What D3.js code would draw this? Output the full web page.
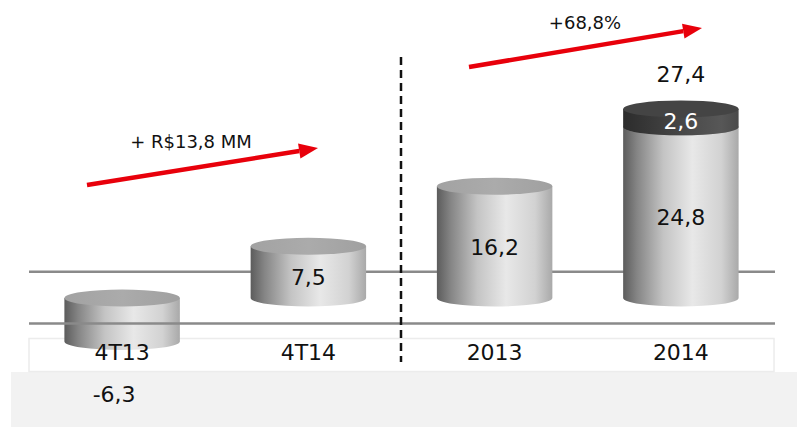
<!DOCTYPE html>
<head>
    <meta charset="utf-8">
    <style type="text/css">
    body { margin: 0; background: #ffffff; }
    text { font-family: "DejaVu Sans", Verdana, sans-serif; }
    </style>
</head>
<body>
    <div id="my_dataviz"></div>

    <script src="https://d3js.org/d3.v7.min.js"></script>
    <script type="text/javascript">

    // data
    var categories = ["4T13", "4T14", "2013", "2014"];
    var baseValues = [-6.3, 7.5, 16.2, 24.8];
    var extraValues = [0, 0, 0, 2.6];
    var baseLabels = ["-6,3", "7,5", "16,2", "24,8"];
    var extraLabels = ["", "", "", "2,6"];
    var totalLabels = ["", "", "", "27,4"];
    var gridValues = [3.8, -3.7];
    var annotations = ["+ R$13,8 MM", "+68,8%"];

    var width = 797, height = 428;

    var svg = d3.select("#my_dataviz")
      .append("svg")
        .attr("width", width)
        .attr("height", height);

    var defs = svg.append("defs");

    // cylinder body shading, light gray
    var g1 = defs.append("linearGradient").attr("id", "bodyLight")
      .attr("x1", "0%").attr("x2", "100%").attr("y1", "0%").attr("y2", "0%");
    [[0, "#5c5c5c"], [0.12, "#858585"], [0.35, "#c4c4c4"], [0.6, "#e8e8e8"], [0.85, "#d2d2d2"], [1, "#a9a9a9"]]
      .forEach(function(s) { g1.append("stop").attr("offset", s[0]).attr("stop-color", s[1]); });

    // dark cap shading
    var g2 = defs.append("linearGradient").attr("id", "bodyDark")
      .attr("x1", "0%").attr("x2", "100%").attr("y1", "0%").attr("y2", "0%");
    [[0, "#2c2c2c"], [0.3, "#3c3c3c"], [0.6, "#4c4c4c"], [0.85, "#575757"], [1, "#4a4a4a"]]
      .forEach(function(s) { g2.append("stop").attr("offset", s[0]).attr("stop-color", s[1]); });

    var g3 = defs.append("linearGradient").attr("id", "topLight")
      .attr("x1", "0%").attr("x2", "100%").attr("y1", "0%").attr("y2", "0%");
    [[0, "#a2a2a2"], [0.5, "#ababab"], [1, "#a0a0a0"]]
      .forEach(function(s) { g3.append("stop").attr("offset", s[0]).attr("stop-color", s[1]); });

    // scales
    var x = d3.scaleBand()
      .domain(categories)
      .range([29, 774])
      .paddingInner(0.38)
      .paddingOuter(0.19);

    var y = d3.scaleLinear()
      .domain([-10, 30])
      .range([367, 91]);

    var ry = 8.5;

    // bottom gray band and the white category box
    svg.append("rect")
      .attr("x", 11).attr("y", 372)
      .attr("width", width - 11).attr("height", 55)
      .style("fill", "#f2f2f2");

    svg.append("rect")
      .attr("x", 29).attr("y", 338.5)
      .attr("width", 745).attr("height", 33)
      .style("fill", "#ffffff")
      .style("stroke", "#ececec")
      .style("stroke-width", 1.5);

    // upper gridline goes behind the bars
    svg.append("line")
      .attr("x1", 29).attr("x2", 775)
      .attr("y1", y(gridValues[0])).attr("y2", y(gridValues[0]))
      .style("stroke", "#8a8a8a")
      .style("stroke-width", 2.5);

    // draw one cylinder from value a to value b
    function cylinder(g, cx, a, b, body, top) {
      var yTop = y(Math.max(a, b)), yBot = y(Math.min(a, b));
      var rx = x.bandwidth() / 2;
      g.append("path")
        .attr("d", "M" + (cx - rx) + "," + yTop +
                   " L" + (cx - rx) + "," + yBot +
                   " A" + rx + "," + ry + " 0 0 0 " + (cx + rx) + "," + yBot +
                   " L" + (cx + rx) + "," + yTop + " Z")
        .style("fill", "url(#" + body + ")");
      g.append("ellipse")
        .attr("cx", cx).attr("cy", yTop)
        .attr("rx", rx).attr("ry", ry)
        .style("fill", top);
    }

    var bars = svg.append("g");
    categories.forEach(function(c, i) {
      var cx = x(c) + x.bandwidth() / 2;
      var g = bars.append("g");
      cylinder(g, cx, 0, baseValues[i], "bodyLight", "url(#topLight)");
      if (extraValues[i] > 0) {
        cylinder(g, cx, baseValues[i], baseValues[i] + extraValues[i], "bodyDark", "#444444");
      }
    });

    // lower gridline sits over the negative bar
    svg.append("line")
      .attr("x1", 29).attr("x2", 775)
      .attr("y1", y(gridValues[1])).attr("y2", y(gridValues[1]))
      .style("stroke", "#8a8a8a")
      .style("stroke-width", 2.5);

    // dashed separator
    svg.append("line")
      .attr("x1", 401).attr("x2", 401)
      .attr("y1", 57).attr("y2", 362)
      .style("stroke", "#111")
      .style("stroke-width", 2.5)
      .style("stroke-dasharray", "8,5");

    // category labels
    svg.selectAll(".cat")
      .data(categories)
      .enter()
      .append("text")
        .attr("x", function(d) { return x(d) + x.bandwidth() / 2; })
        .attr("y", 360)
        .attr("text-anchor", "middle")
        .style("font-size", "22px")
        .style("fill", "#111")
        .text(function(d) { return d; });

    // value labels
    categories.forEach(function(c, i) {
      var cx = x(c) + x.bandwidth() / 2;
      var v = baseValues[i];
      var ly = v >= 0 ? (y(0) + y(v)) / 2 + 13 : 402;
      var lx = v >= 0 ? cx : cx - 8;
      svg.append("text")
        .attr("x", lx).attr("y", ly)
        .attr("text-anchor", "middle")
        .style("font-size", "22px")
        .style("fill", "#111")
        .text(baseLabels[i]);
      if (extraLabels[i]) {
        svg.append("text")
          .attr("x", cx)
          .attr("y", (y(v) + y(v + extraValues[i])) / 2 + 11)
          .attr("text-anchor", "middle")
          .style("font-size", "22px")
          .style("fill", "#ffffff")
          .text(extraLabels[i]);
      }
      if (totalLabels[i]) {
        svg.append("text")
          .attr("x", cx)
          .attr("y", y(v + extraValues[i]) - 27)
          .attr("text-anchor", "middle")
          .style("font-size", "22px")
          .style("fill", "#111")
          .text(totalLabels[i]);
      }
    });

    // red growth arrows
    var arrows = [
      {x1: 87, y1: 185, x2: 318, y2: 148, tx: 191, ty: 148, label: annotations[0]},
      {x1: 469, y1: 67, x2: 702, y2: 28, tx: 585, ty: 29, label: annotations[1]}
    ];

    arrows.forEach(function(a) {
      var ang = Math.atan2(a.y2 - a.y1, a.x2 - a.x1);
      var len = 19, half = 7.5;
      var bx = a.x2 - len * Math.cos(ang), by = a.y2 - len * Math.sin(ang);
      svg.append("line")
        .attr("x1", a.x1).attr("y1", a.y1)
        .attr("x2", bx).attr("y2", by)
        .style("stroke", "#e8000b")
        .style("stroke-width", 4.5);
      svg.append("path")
        .attr("d", "M" + a.x2 + "," + a.y2 +
                   " L" + (bx - half * Math.sin(ang)) + "," + (by + half * Math.cos(ang)) +
                   " L" + (bx + half * Math.sin(ang)) + "," + (by - half * Math.cos(ang)) + " Z")
        .style("fill", "#e8000b");
      svg.append("text")
        .attr("x", a.tx).attr("y", a.ty)
        .attr("text-anchor", "middle")
        .style("font-size", "18px")
        .style("fill", "#111")
        .text(a.label);
    });

    </script>
</body>
